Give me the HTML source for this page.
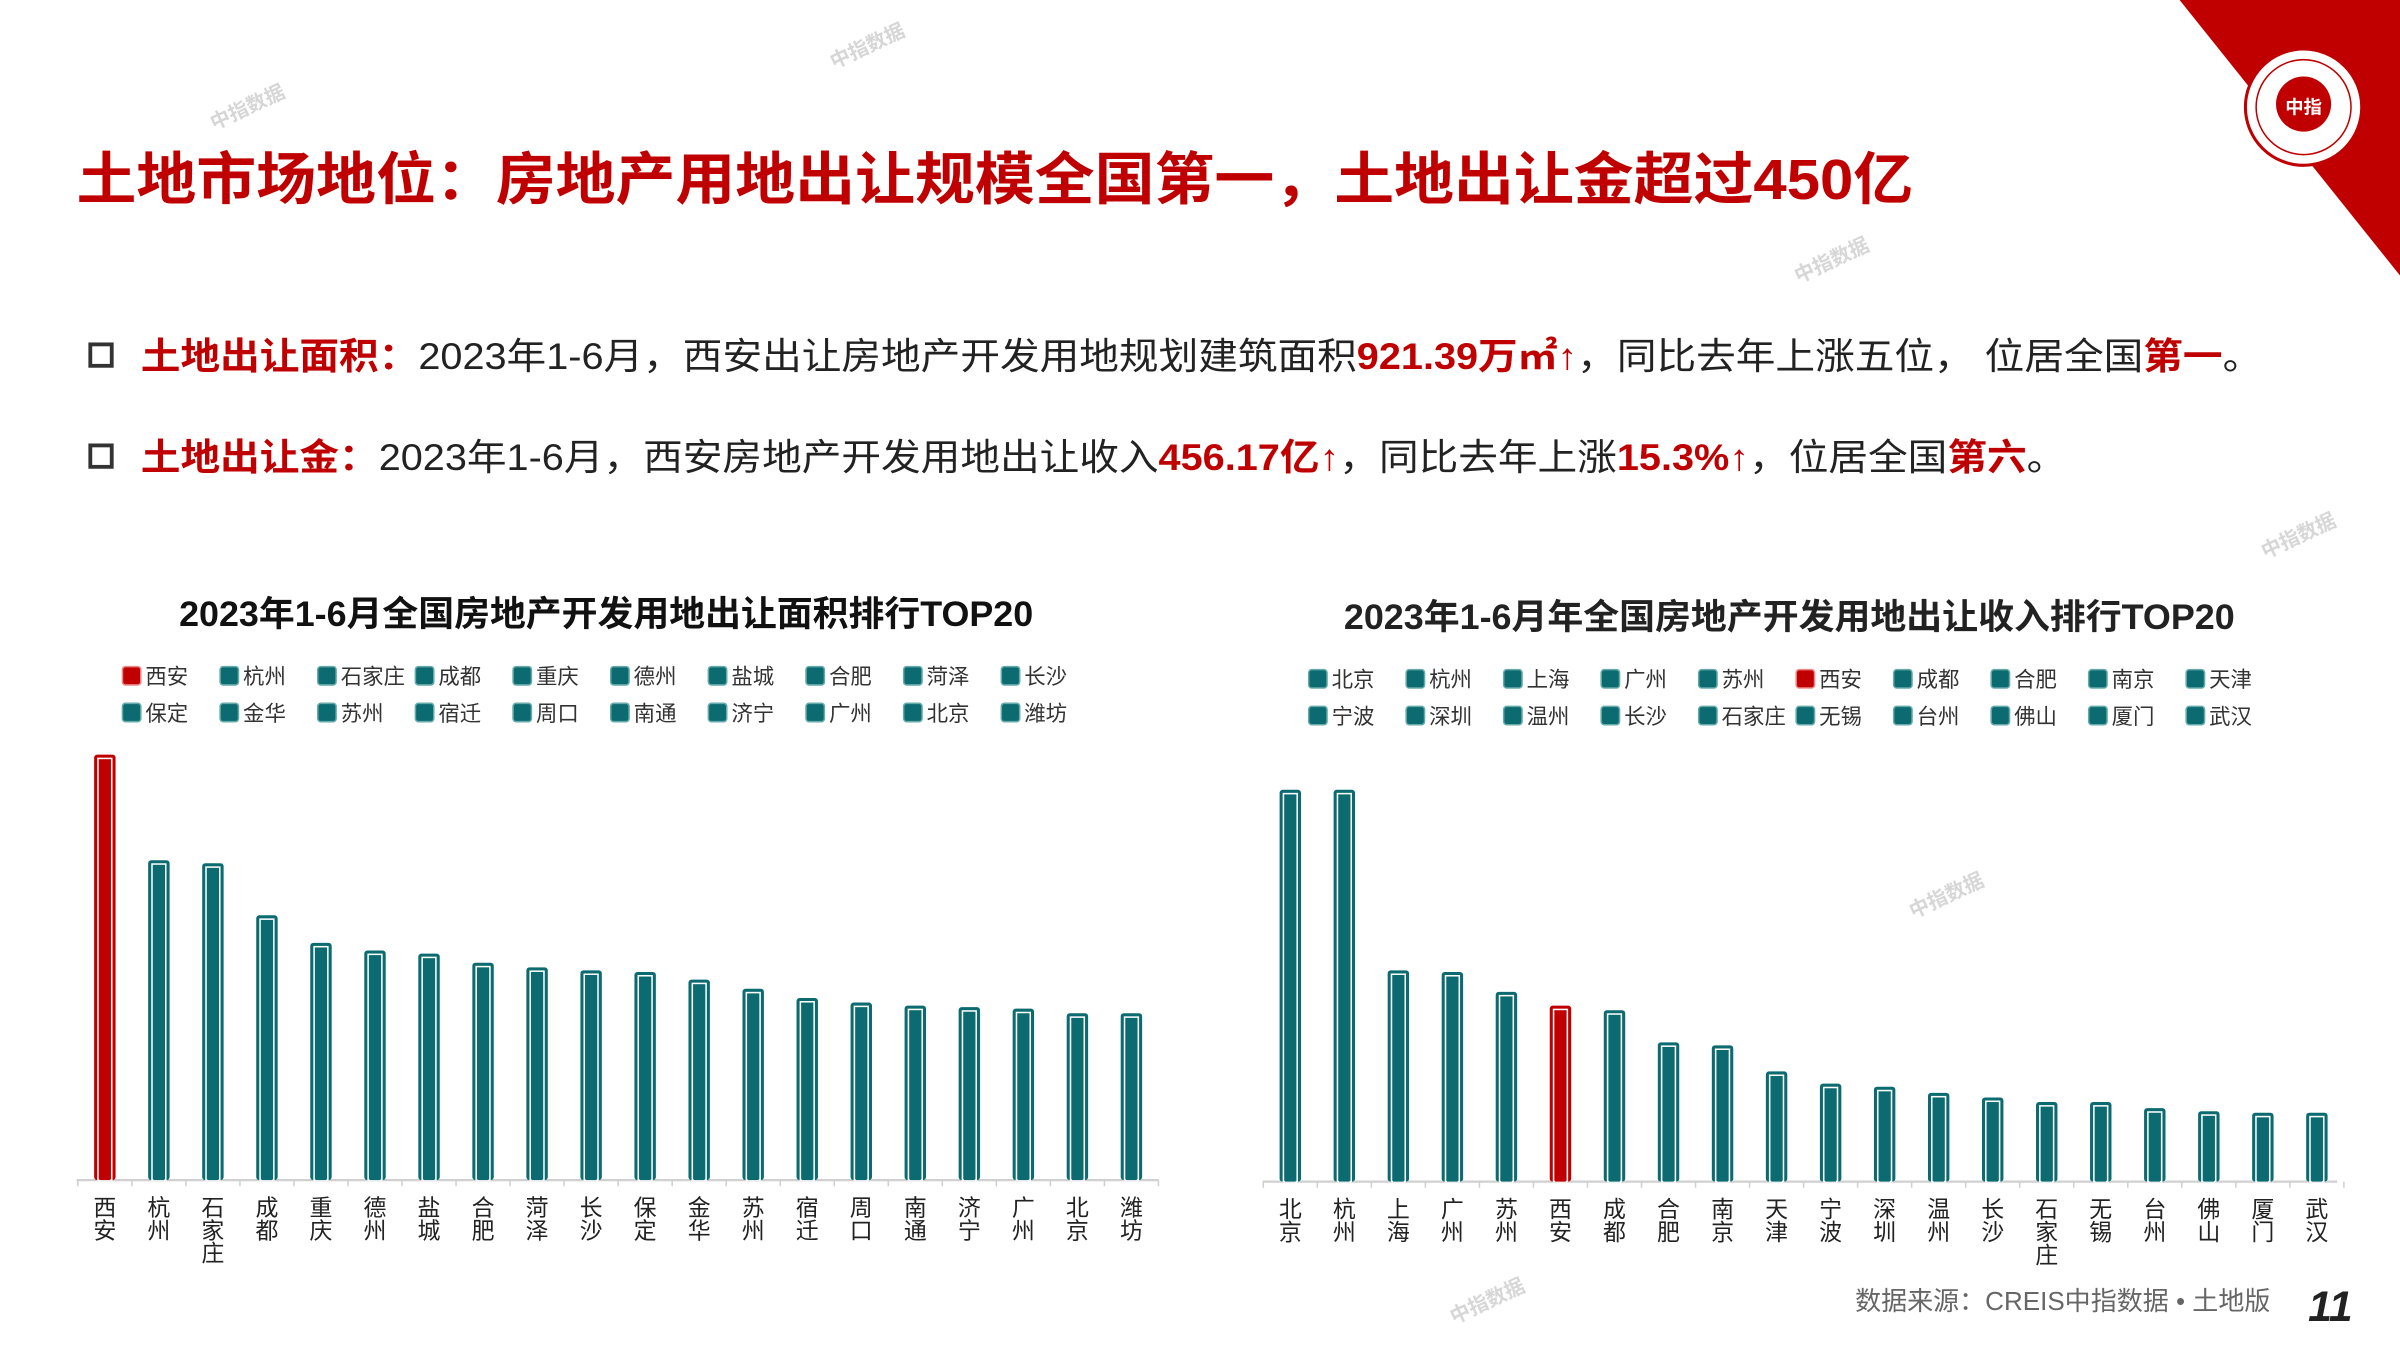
<!DOCTYPE html>
<html><head><meta charset="utf-8"><style>
html,body{margin:0;padding:0;background:#fff;}
svg{display:block;}
text{font-family:"Liberation Sans","Noto Sans CJK SC",sans-serif;}
</style></head><body>
<svg width="2400" height="1350" viewBox="0 0 1568 882" xmlns="http://www.w3.org/2000/svg">
<rect width="1568" height="882" fill="#fff"/>
<polygon points="1424,0 1568,0 1568,180" fill="#c00000"/>
<circle cx="1505" cy="70" r="38" fill="#fff" stroke="#c00000" stroke-width="2"/>
<circle cx="1505" cy="70" r="31" fill="#fff" stroke="#c00000" stroke-width="1"/>
<circle cx="1505" cy="68" r="18" fill="#c00000"/>
<text x="1505" y="74" font-size="12" font-weight="bold" fill="#fff" text-anchor="middle">中指</text>

<text x="50" y="130" font-size="37" font-weight="bold" fill="#c00000" textLength="1200" lengthAdjust="spacingAndGlyphs">土地市场地位：房地产用地出让规模全国第一，土地出让金超过450亿</text>

<rect x="59" y="225" width="14" height="14" fill="none" stroke="#333" stroke-width="2.5"/>
<text x="92" y="241" font-size="24" fill="#222" textLength="1386" lengthAdjust="spacingAndGlyphs"><tspan fill="#c00000" font-weight="bold">土地出让面积：</tspan>2023年1-6月，西安出让房地产开发用地规划建筑面积<tspan fill="#c00000" font-weight="bold">921.39万㎡↑</tspan>，同比去年上涨五位， 位居全国<tspan fill="#c00000" font-weight="bold">第一</tspan>。</text>
<rect x="59" y="291" width="14" height="14" fill="none" stroke="#333" stroke-width="2.5"/>
<text x="92" y="307" font-size="24" fill="#222" textLength="1258" lengthAdjust="spacingAndGlyphs"><tspan fill="#c00000" font-weight="bold">土地出让金：</tspan>2023年1-6月，西安房地产开发用地出让收入<tspan fill="#c00000" font-weight="bold">456.17亿↑</tspan>，同比去年上涨<tspan fill="#c00000" font-weight="bold">15.3%↑</tspan>，位居全国<tspan fill="#c00000" font-weight="bold">第六</tspan>。</text>

<text x="117" y="409" font-size="23" font-weight="bold" fill="#111" textLength="558" lengthAdjust="spacingAndGlyphs">2023年1-6月全国房地产开发用地出让面积排行TOP20</text>
<text x="878" y="411" font-size="23" font-weight="bold" fill="#222" textLength="582" lengthAdjust="spacingAndGlyphs">2023年1-6月年全国房地产开发用地出让收入排行TOP20</text>

<g id="charts"></g>

<text x="1212" y="856" font-size="17" fill="#666">数据来源：CREIS中指数据 • 土地版</text>
<text x="1508" y="863" font-size="28" font-weight="bold" font-style="italic" fill="#222">11</text>

<g font-size="13" fill="#ccc" opacity="0.8" font-weight="bold">
<text transform="translate(140,85) rotate(-25)">中指数据</text>
<text transform="translate(545,45) rotate(-25)">中指数据</text>
<text transform="translate(1175,185) rotate(-25)">中指数据</text>
<text transform="translate(1480,365) rotate(-25)">中指数据</text>
<text transform="translate(1250,600) rotate(-25)">中指数据</text>
<text transform="translate(950,865) rotate(-25)">中指数据</text>
</g>
</svg>
<script>
const ns="http://www.w3.org/2000/svg";
const g=document.getElementById("charts");
function el(t,a,txt){const e=document.createElementNS(ns,t);for(const k in a)e.setAttribute(k,a[k]);if(txt!==undefined)e.textContent=txt;g.appendChild(e);return e;}
function chart(names,tops,red,x0,step,axisY,ax1,ax2,legX,legStep,legY){
  el("line",{x1:ax1,y1:axisY,x2:ax2,y2:axisY,stroke:"#d0d0d0","stroke-width":1.5});
  for(let i=0;i<=20;i++){const tx=x0-step/2+i*step;el("line",{x1:tx,y1:axisY,x2:tx,y2:axisY+4,stroke:"#d0d0d0","stroke-width":1});}
  names.forEach((n,i)=>{
    const cx=x0+i*step,top=tops[i],col=i===red?"#c00000":"#0b6b70";
    el("rect",{x:cx-7,y:top,width:14,height:axisY-top,rx:2,fill:col});
    el("rect",{x:cx-4.5,y:top+2.5,width:9,height:axisY-top-2.5,fill:"none",stroke:"#fff","stroke-width":1});
    el("rect",{x:cx-3.5,y:top+3.5,width:7,height:axisY-top-3.5,fill:col});
    [...n].forEach((c,j)=>el("text",{x:cx,y:axisY+23+j*15,"font-size":15,fill:"#222","text-anchor":"middle"},c));
    const r=Math.floor(i/10),k=i%10,lx=legX+k*legStep,ly=legY+r*24;
    el("rect",{x:lx,y:ly-11.5,width:12,height:12,rx:2,fill:col,stroke:i===red?"#e88":"#6aa","stroke-width":1});
    el("text",{x:lx+15,y:ly,"font-size":14,fill:"#333"},n);
  });
}
chart(["西安","杭州","石家庄","成都","重庆","德州","盐城","合肥","菏泽","长沙","保定","金华","苏州","宿迁","周口","南通","济宁","广州","北京","潍坊"],
 [493,562,564,598,616,621,623,629,632,634,635,640,646,652,655,657,658,659,662,662],0,68.5,35.3,771,50,757,80,63.8,447);
chart(["北京","杭州","上海","广州","苏州","西安","成都","合肥","南京","天津","宁波","深圳","温州","长沙","石家庄","无锡","台州","佛山","厦门","武汉"],
 [516,516,634,635,648,657,660,681,683,700,708,710,714,717,720,720,724,726,727,727],5,843,35.3,772,825,1527,855,63.7,449);
</script>
</body></html>
